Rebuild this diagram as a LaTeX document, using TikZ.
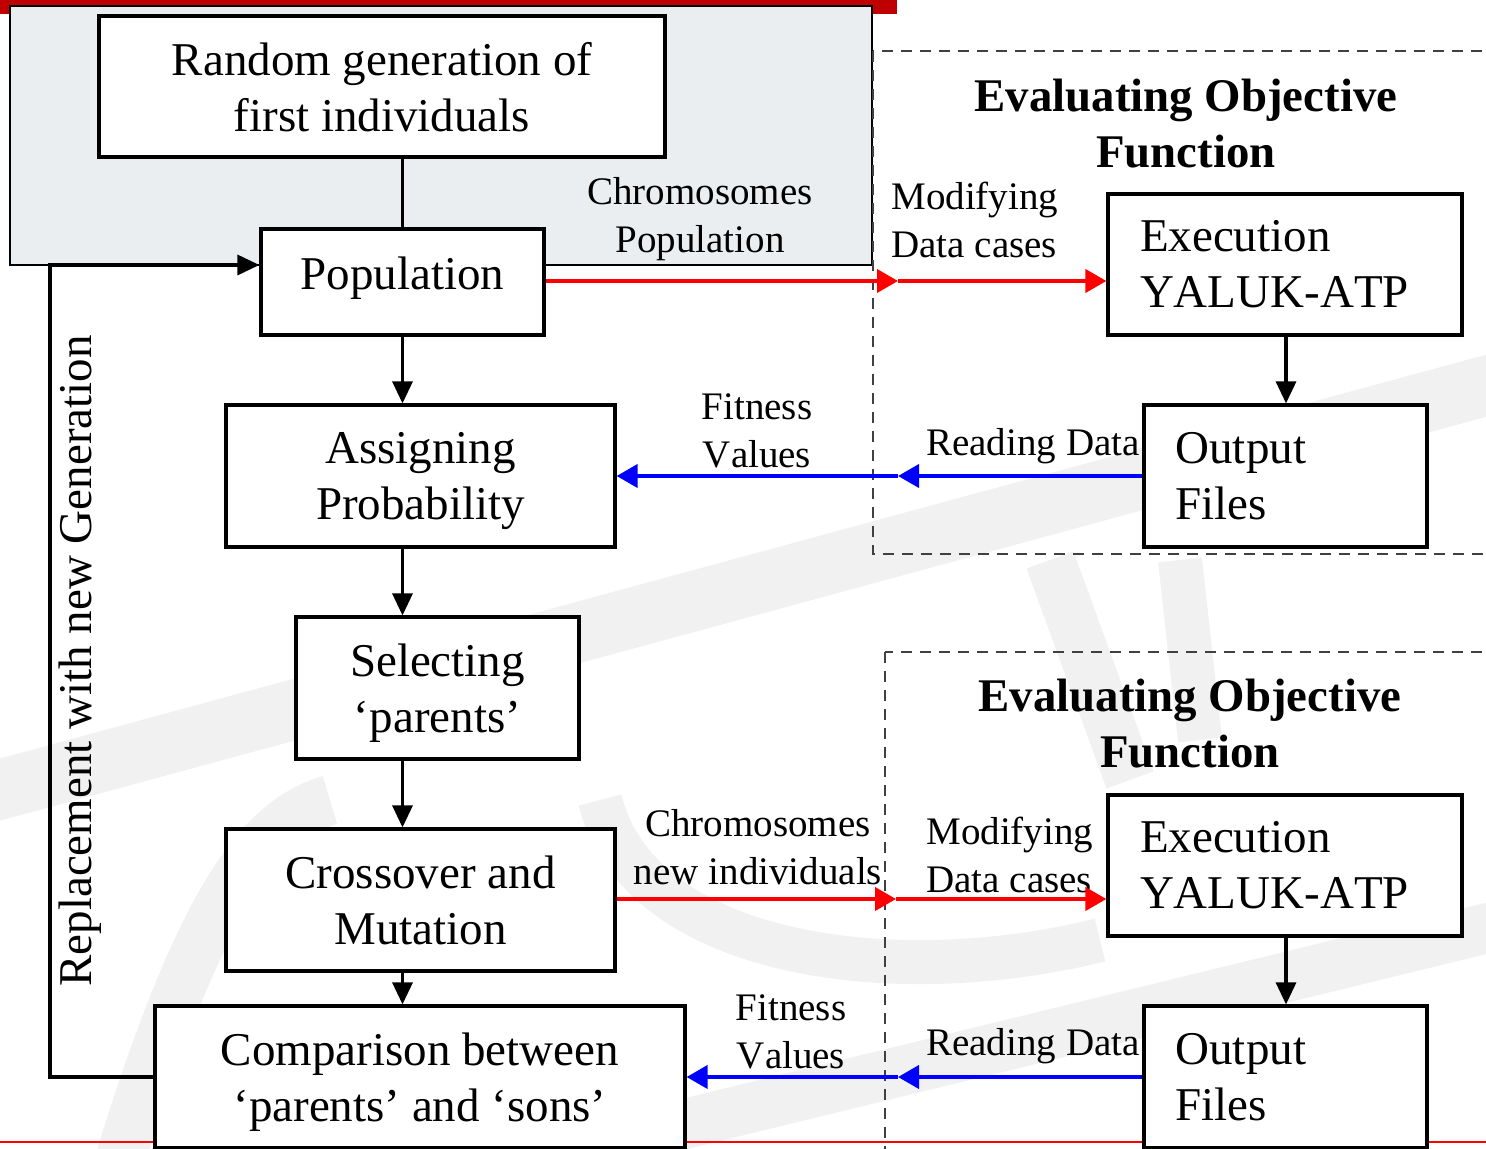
\documentclass[tikz,border=0pt]{standalone}
\usepackage{fontspec}
\setmainfont[Kerning=Off]{Liberation Serif}
\usetikzlibrary{arrows.meta}
\definecolor{barred}{HTML}{C00000}
\definecolor{panelgray}{HTML}{EBEEF1}
\definecolor{dashgray}{HTML}{404040}
\definecolor{wmark}{HTML}{F1F1F1}
\tikzset{
  box/.style={draw, line width=1.6pt, fill=white, inner sep=0pt, align=center,
              text depth=0pt, font=\fontsize{23.5}{28}\selectfont},
  lbox/.style={draw, line width=1.6pt, fill=white, inner ysep=0pt, align=left,
              font=\fontsize{23.5}{28}\selectfont},
  lbl/.style={inner sep=0pt, align=center, font=\fontsize{19.5}{24}\selectfont},
  lbll/.style={lbl, align=left},
  ttl/.style={inner sep=0pt, align=center, font=\bfseries\fontsize{23.4}{28}\selectfont},
  blk/.style={line width=1.6pt, -{Triangle[length=11pt,width=10pt]}},
  plain/.style={line width=1.5pt},
  loopline/.style={line width=1.7pt},
  redarr/.style={red, line width=2pt, -{Triangle[length=10.5pt,width=11.5pt]}},
  bluearr/.style={blue, line width=2pt, -{Triangle[length=10.5pt,width=11.5pt]}},
  dashbox/.style={dashgray, line width=1.1pt, dash pattern=on 5.5pt off 4pt},
}
\begin{document}
\begin{tikzpicture}[x=0.5pt, y=-0.5pt]
\clip (0,0) rectangle (1486,1149);
\useasboundingbox (0,0) rectangle (1486,1149);

% faint watermark
\draw[wmark, line width=30pt] (-20,795) -- (1500,382);
\draw[wmark, line width=25pt] (680,1125) -- (1500,925);
\draw[wmark, line width=25pt] (1050,560) -- (1130,780);
\draw[wmark, line width=22pt] (1180,560) -- (1200,740);
\draw[wmark, line width=25pt] (120,1160) .. controls (200,900) and (260,820) .. (330,800);
\draw[wmark, line width=22pt] (600,800) .. controls (640,960) and (900,990) .. (1100,940);

% bottom thin red line
\draw[red, line width=0.6pt] (0,1142) -- (1486,1142);

% top bar and panel
\fill[barred] (0,0) rectangle (897,14);
\draw[fill=panelgray, line width=1pt] (10,6.5) rectangle (872,265);

% dashed regions
\draw[dashbox] (873,51) rectangle (1520,554);
\draw[dashbox] (885,652) rectangle (1520,1180);

% boxes
\node[box, minimum width=283pt, minimum height=70.5pt] (rand) at (382,86.5) {Random generation of\\first individuals};
\node[box, minimum width=141.5pt, minimum height=53pt, text depth=9pt] (pop) at (402.5,282) {Population};
\node[box, minimum width=194.5pt, minimum height=71pt] (ass) at (420.5,476) {Assigning\\Probability};
\node[box, minimum width=141.5pt, minimum height=71pt] (sel) at (437.5,688) {Selecting\\‘parents’};
\node[box, minimum width=194.5pt, minimum height=71pt] (cro) at (420.5,900) {Crossover and\\Mutation};
\node[box, minimum width=265pt, minimum height=71pt] (cmp) at (420,1077) {Comparison between\\‘parents’ and ‘sons’};

\node[lbox, text width=145pt, inner xsep=16pt, minimum height=70.5pt] (exe1) at (1285,264.5) {Execution\\YALUK-ATP};
\node[lbox, text width=110pt, inner xsep=15.75pt, minimum height=71pt] (out1) at (1285.5,476) {Output\\Files};
\node[lbox, text width=145pt, inner xsep=16pt, minimum height=70.5pt] (exe2) at (1285,865.5) {Execution\\YALUK-ATP};
\node[lbox, text width=110pt, inner xsep=15.75pt, minimum height=71pt] (out2) at (1285.5,1077) {Output\\Files};

% titles and labels
\node[ttl] (t1) at (1186,124) {Evaluating Objective\\Function};
\node[ttl] (t2) at (1190,724) {Evaluating Objective\\Function};
\node[lbl] (l1) at (700,219) {Chromosomes\\Population};
\node[lbll, anchor=west] (l2) at (891,220) {Modifying\\Data cases};
\node[lbl] (l3) at (757,431) {Fitness\\Values};
\node[lbl] (l4) at (1033,446) {Reading Data};
\node[lbl] (l5) at (758,847) {Chromosomes\\new individuals};
\node[lbll, anchor=west] (l6) at (926,855) {Modifying\\Data cases};
\node[lbl] (l7) at (1033,1046) {Reading Data};
\node[lbl] (l8) at (791,1032) {Fitness\\Values};
\node[rotate=90, inner sep=0pt, font=\fontsize{23.5}{28}\selectfont] (rep) at (80,661) {Replacement with new Generation};

% coordinates
\coordinate (r1) at (898,281);
\coordinate (b1) at (898,476);
\coordinate (r2) at (896,899);
\coordinate (b2) at (898,1077);
\coordinate (lb) at (50,1077);
\coordinate (lt) at (50,265);

% main flow
\draw[plain] (pop.north |- rand.south) -- (pop.north);
\draw[blk] (pop.south) -- (pop.south |- ass.north);
\draw[blk] (pop.south |- ass.south) -- (pop.south |- sel.north);
\draw[blk] (pop.south |- sel.south) -- (pop.south |- cro.north);
\draw[blk] (pop.south |- cro.south) -- (pop.south |- cmp.north);
\draw[loopline, -{Triangle[length=11pt,width=10pt]}] (cmp.west) -- (lb) -- (lt) -- (lt -| pop.west);

% evaluation flows
\draw[redarr] (pop.east |- r1) -- (r1);
\draw[redarr] (r1) -- (r1 -| exe1.west);
\draw[blk] (exe1.south -| 1286,0) -- (out1.north -| 1286,0);
\draw[bluearr] (out1.west) -- (b1);
\draw[bluearr] (b1) -- (b1 -| ass.east);

\draw[redarr] (cro.east |- r2) -- (r2);
\draw[redarr] (r2) -- (r2 -| exe2.west);
\draw[blk] (exe2.south -| 1286,0) -- (out2.north -| 1286,0);
\draw[bluearr] (out2.west) -- (b2);
\draw[bluearr] (b2) -- (b2 -| cmp.east);
\end{tikzpicture}
\end{document}
